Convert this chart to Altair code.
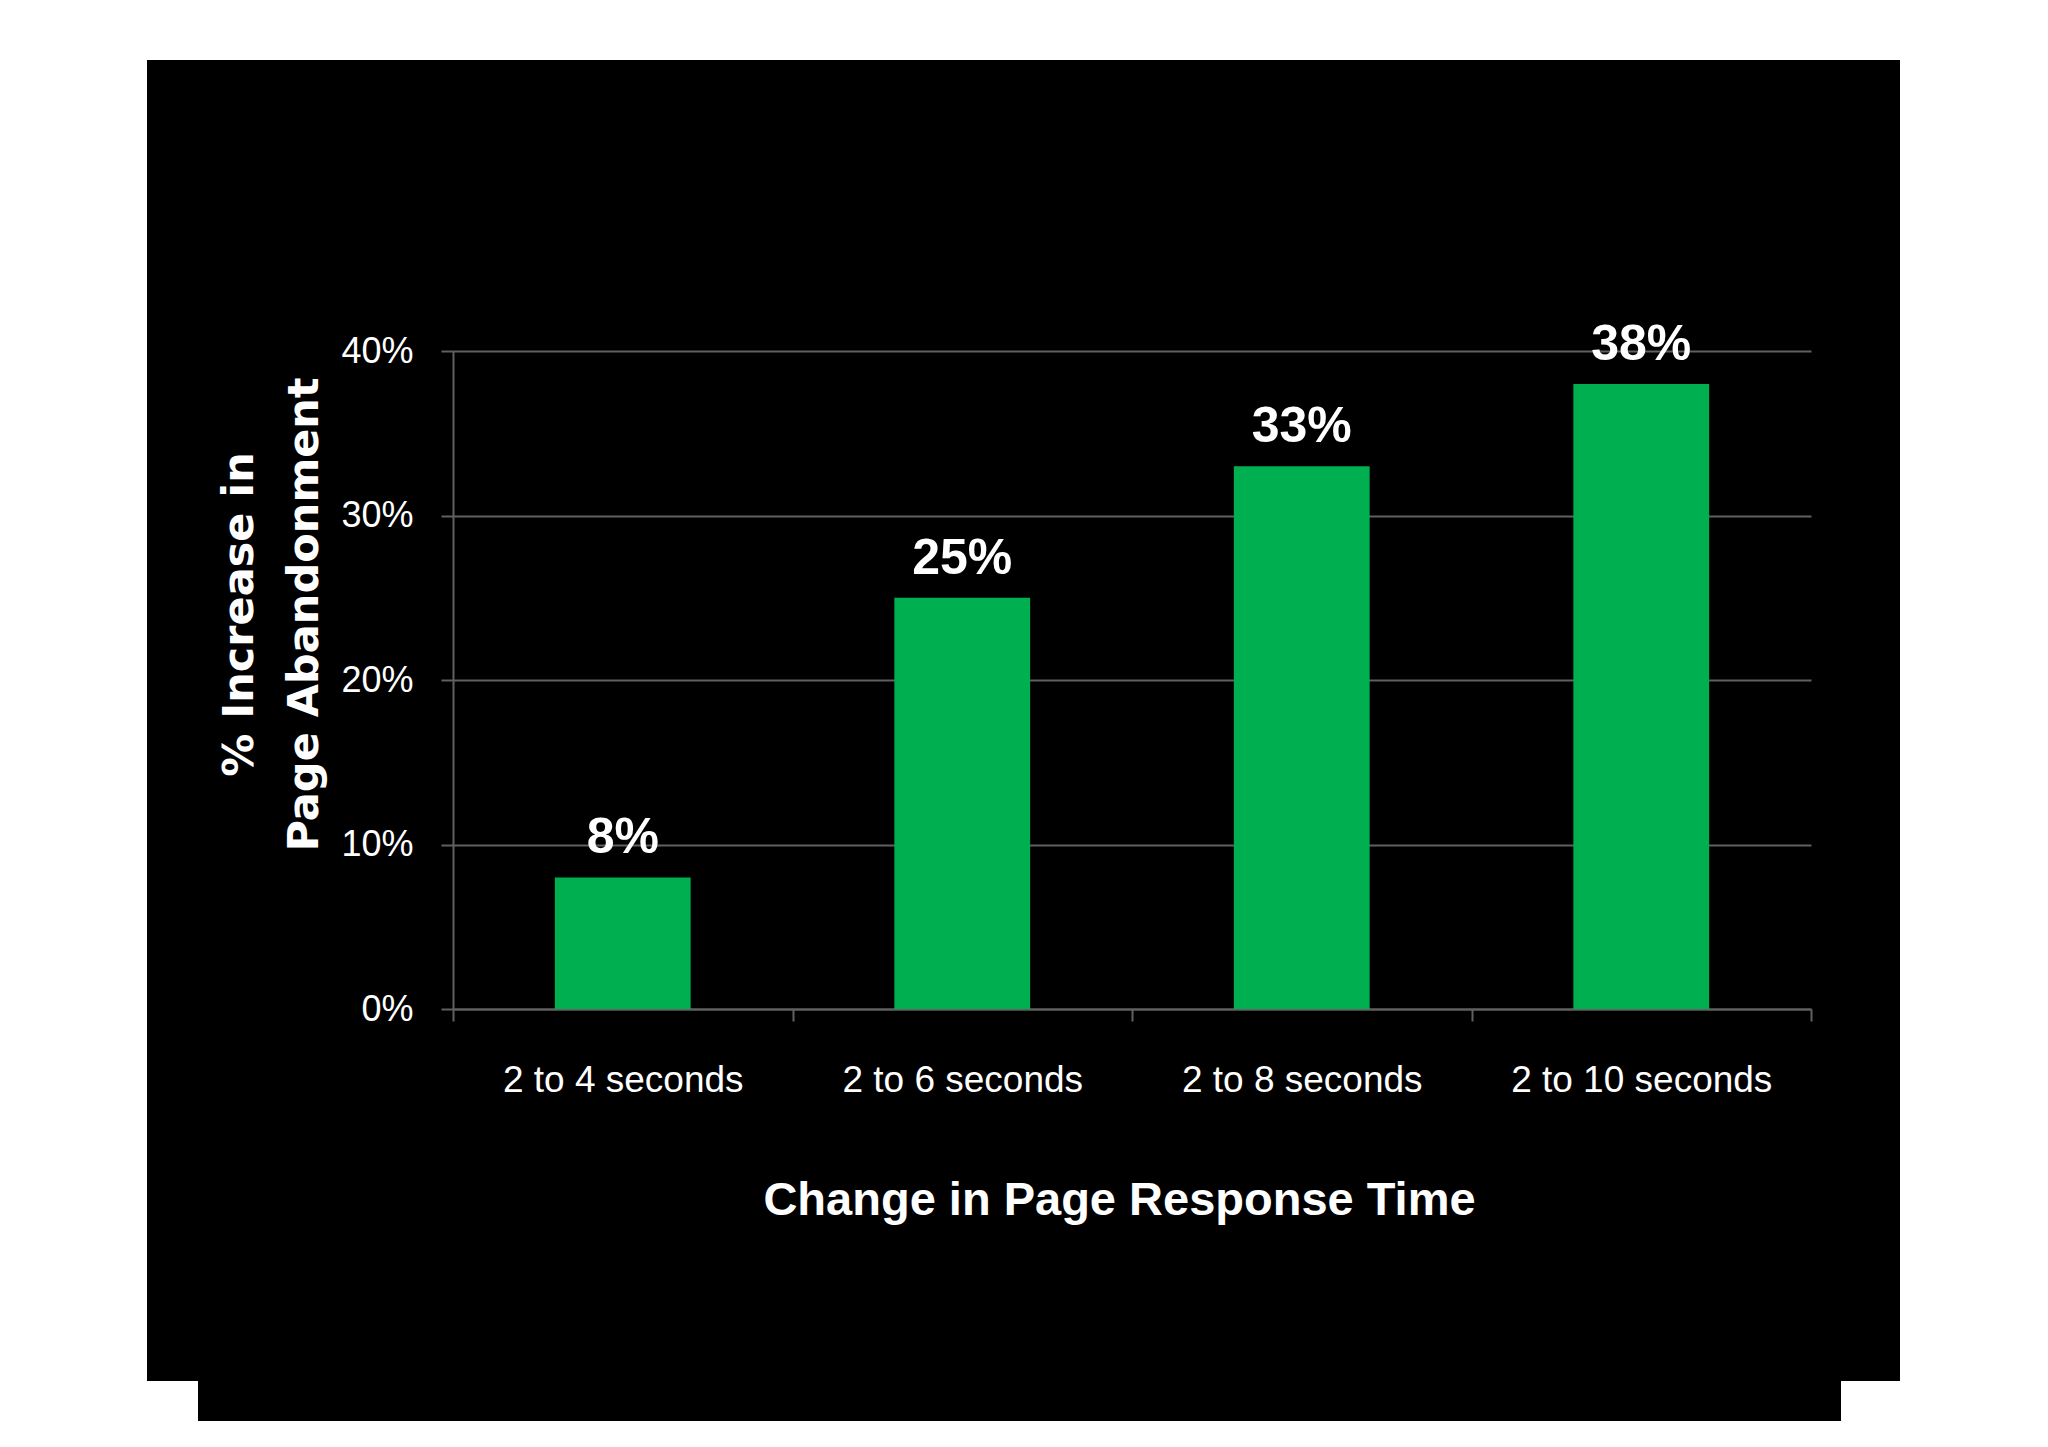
import altair as alt
import pandas as pd

categories = ["2 to 4 seconds", "2 to 6 seconds", "2 to 8 seconds", "2 to 10 seconds"]
values = [0.08, 0.25, 0.33, 0.38]
y_ticks = [0.0, 0.1, 0.2, 0.3, 0.4]

df = pd.DataFrame({"cat": categories, "val": values})

NARROW = "Liberation Sans, Arial, sans-serif"
WIDE = "DejaVu Sans, Verdana, sans-serif"
GREY = "#606060"

x_enc = alt.X(
    "cat:N",
    sort=categories,
    scale=alt.Scale(paddingInner=0, paddingOuter=0),
    axis=alt.Axis(
        title="Change in Page Response Time",
        titleFont=NARROW,
        titleFontSize=47,
        titleFontWeight="bold",
        titleColor="white",
        titleBaseline="alphabetic",
        titleX=666,
        titleY=205,
        labelAngle=0,
        labelFont=NARROW,
        labelFontSize=37,
        labelColor="white",
        labelPadding=41,
        labelLimit=0,
        tickBand="extent",
        ticks=True,
        tickSize=12,
        tickColor=GREY,
        tickWidth=2,
        domainColor=GREY,
        domainWidth=2,
        grid=False,
    ),
)

y_enc = alt.Y(
    "val:Q",
    scale=alt.Scale(domain=[0, 0.4], nice=False),
    axis=alt.Axis(
        values=y_ticks,
        format=".0%",
        title=["% Increase in", "Page Abandonment"],
        titleFont=WIDE,
        titleFontSize=43,
        titleFontWeight="bold",
        titleColor="white",
        titleLineHeight=65,
        titleBaseline="middle",
        titleX=-214,
        titleY=263,
        titleAngle=270,
        labelFont=NARROW,
        labelFontSize=36,
        labelColor="white",
        labelPadding=28,
        labelLimit=0,
        tickSize=12,
        tickColor=GREY,
        tickWidth=2,
        domainColor=GREY,
        domainWidth=2,
        grid=True,
        gridColor=GREY,
        gridWidth=2,
    ),
)

bars = alt.Chart(df).mark_bar(color="#00B050", width=alt.RelativeBandSize(0.4)).encode(
    x=x_enc, y=y_enc
)

labels = alt.Chart(df).mark_text(
    font=NARROW, fontSize=50, fontWeight="bold", color="white",
    baseline="alphabetic", dy=-24,
).encode(
    x=alt.X("cat:N", sort=categories),
    y=alt.Y("val:Q"),
    text=alt.Text("val:Q", format=".0%"),
)

one = pd.DataFrame({"a": [0]})

def white_rect(x1, x2, y1, y2):
    return alt.Chart(one).mark_rect(color="white").encode(
        x=alt.value(x1), x2=alt.value(x2), y=alt.value(y1), y2=alt.value(y2)
    )

frame = [
    white_rect(-470, -306, -370, 1110),   # left margin
    white_rect(1447, 1610, -370, 1110),   # right margin
    white_rect(-470, 1610, -370, -291),   # top margin
    white_rect(-470, 1610, 1070, 1110),   # bottom margin
    white_rect(-306, -255, 1030, 1070),   # bottom-left notch
    white_rect(1388, 1447, 1030, 1070),   # bottom-right notch
]

chart = alt.layer(bars, labels, *frame).properties(
    width=1358,
    height=658,
    background="black",
    padding={"left": 445, "top": 343, "right": 229, "bottom": 430},
    autosize=alt.AutoSizeParams(type="none"),
).configure_view(strokeWidth=0)

chart.save("out.html", embed_options={"renderer": "svg", "actions": False})
